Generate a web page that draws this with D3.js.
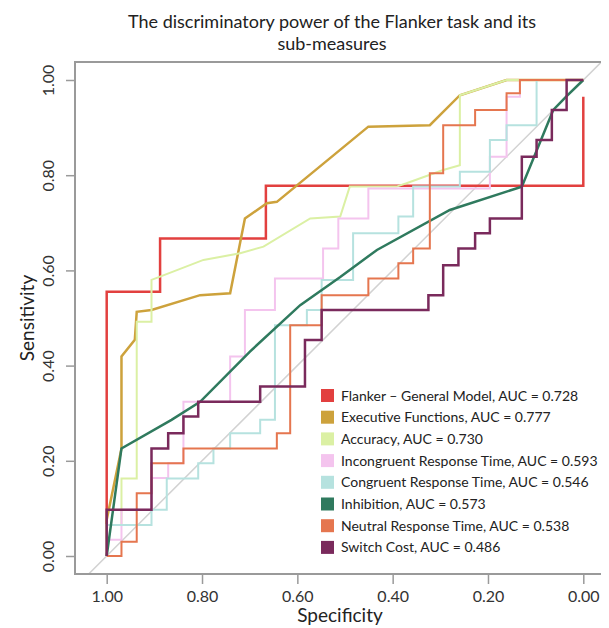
<!DOCTYPE html>
<meta charset="utf-8">
<style>
body { margin: 0; background: #fff; }
text { font-family: Lato, "Open Sans", sans-serif; fill: #222; }
.roc { fill: none; stroke-linejoin: miter; clip-path: url(#clip); }
.axis path { display: none; }
.axis line { stroke: #9a9a9a; stroke-width: 1.5px; }
.axis text { font-size: 16px; fill: #333; }
.frame { fill: none; stroke: #9a9a9a; stroke-width: 2px; }
</style>
<svg width="609" height="628"></svg>
<script src="https://d3js.org/d3.v7.min.js"></script>
<script>

// ROC curves as [specificity, sensitivity]
var flanker = [[1,0],[1,0.555],[0.888,0.555],[0.888,0.667],[0.666,0.667],[0.666,0.778],[0,0.778],[0,0.965]];

var executive = [[1,0],[1,0.076],[0.969,0.226],[0.969,0.419],[0.941,0.454],[0.937,0.513],[0.906,0.517],
  [0.804,0.548],[0.741,0.552],[0.710,0.709],[0.664,0.741],[0.643,0.744],[0.451,0.902],[0.322,0.905],
  [0.259,0.968],[0.161,1],[0,1]];

var accuracy = [[1,0],[1,0.065],[0.969,0.065],[0.969,0.163],[0.937,0.163],[0.937,0.492],[0.906,0.492],
  [0.906,0.580],[0.888,0.587],[0.797,0.622],[0.720,0.636],[0.671,0.650],[0.573,0.709],[0.510,0.713],
  [0.490,0.776],[0.392,0.776],[0.371,0.783],[0.294,0.811],[0.259,0.821],[0.259,0.968],[0.161,1],[0,1]];

var incongruent = [[1,0],[1,0.034],[0.969,0.034],[0.969,0.097],[0.906,0.097],[0.906,0.164],[0.871,0.164],
  [0.871,0.195],[0.839,0.195],[0.839,0.324],[0.741,0.324],[0.741,0.419],[0.710,0.419],[0.710,0.517],
  [0.647,0.517],[0.647,0.583],[0.546,0.583],[0.546,0.646],[0.514,0.646],[0.514,0.709],[0.451,0.709],
  [0.451,0.772],[0.196,0.772],[0.196,0.839],[0.161,0.839],[0.161,0.965],[0.133,0.965],[0.133,1],[0,1]];

var congruent = [[1,0],[1,0.065],[0.906,0.065],[0.906,0.097],[0.874,0.097],[0.874,0.163],[0.808,0.163],
  [0.808,0.195],[0.776,0.195],[0.776,0.226],[0.741,0.226],[0.741,0.258],[0.678,0.258],[0.678,0.286],
  [0.647,0.286],[0.647,0.485],[0.580,0.485],[0.580,0.517],[0.549,0.517],[0.549,0.580],[0.483,0.580],
  [0.483,0.678],[0.388,0.678],[0.388,0.713],[0.357,0.713],[0.357,0.776],[0.259,0.776],[0.259,0.807],
  [0.196,0.807],[0.196,0.874],[0.161,0.874],[0.161,0.905],[0.098,0.905],[0.098,1],[0,1]];

var inhibition = [[1,0],[0.969,0.226],[0.864,0.286],[0.804,0.324],[0.700,0.429],[0.594,0.527],
  [0.510,0.586],[0.433,0.643],[0.280,0.727],[0.129,0.776],[0.063,0.937],[0.035,0.966],[0,1]];

var neutral = [[1,0],[0.969,0],[0.969,0.030],[0.937,0.030],[0.937,0.132],[0.906,0.132],[0.906,0.195],
  [0.839,0.195],[0.839,0.226],[0.643,0.226],[0.643,0.258],[0.615,0.258],[0.615,0.485],[0.549,0.485],
  [0.549,0.548],[0.451,0.548],[0.451,0.583],[0.388,0.583],[0.388,0.615],[0.357,0.615],[0.357,0.646],
  [0.322,0.646],[0.322,0.804],[0.294,0.804],[0.294,0.905],[0.227,0.905],[0.227,0.937],[0.161,0.937],
  [0.161,0.972],[0.133,0.972],[0.133,1],[0,1]];

var switchCost = [[1,0],[1,0.097],[0.906,0.097],[0.906,0.226],[0.871,0.226],[0.871,0.258],[0.839,0.258],
  [0.839,0.293],[0.808,0.293],[0.808,0.324],[0.678,0.324],[0.678,0.356],[0.584,0.356],[0.584,0.454],
  [0.549,0.454],[0.549,0.517],[0.325,0.517],[0.325,0.548],[0.294,0.548],[0.294,0.611],[0.262,0.611],
  [0.262,0.646],[0.227,0.646],[0.227,0.678],[0.196,0.678],[0.196,0.709],[0.129,0.709],[0.129,0.839],
  [0.098,0.839],[0.098,0.874],[0.066,0.874],[0.066,0.937],[0.035,0.937],[0.035,1],[0,1]];

var seriesNames = ["Flanker \u2013 General Model", "Executive Functions", "Accuracy",
  "Incongruent Response Time", "Congruent Response Time", "Inhibition",
  "Neutral Response Time", "Switch Cost"];
var aucValues = [0.728, 0.777, 0.730, 0.593, 0.546, 0.573, 0.538, 0.486];
var seriesData = [flanker, executive, accuracy, incongruent, congruent, inhibition, neutral, switchCost];

var colors = ["#e2403f", "#cda23c", "#dbf0a4", "#f4c4ee", "#b6e2df", "#2f7a5e", "#e5764f", "#7a2a5c"];
var widths = [2.5, 2.5, 2, 2, 2, 2.5, 2, 2.5];

var tickValues = [0, 0.2, 0.4, 0.6, 0.8, 1];

var svg = d3.select("svg");
var frame = {left: 75, right: 601, top: 62, bottom: 574};

var x = d3.scaleLinear().domain([1, 0]).range([106.7, 583.3]),
    y = d3.scaleLinear().domain([0, 1]).range([556, 80]);

svg.append("defs").append("clipPath")
    .attr("id", "clip")
    .append("rect")
    .attr("x", frame.left)
    .attr("y", frame.top)
    .attr("width", frame.right - frame.left)
    .attr("height", frame.bottom - frame.top);

// title
svg.append("text")
    .attr("x", 332).attr("y", 28)
    .attr("text-anchor", "middle")
    .style("font-size", "18px")
    .text("The discriminatory power of the Flanker task and its");
svg.append("text")
    .attr("x", 332).attr("y", 50)
    .attr("text-anchor", "middle")
    .style("font-size", "18px")
    .text("sub-measures");

// reference diagonal
svg.append("line")
    .attr("class", "roc")
    .attr("x1", x(1.2)).attr("y1", y(-0.2))
    .attr("x2", x(-0.2)).attr("y2", y(1.2))
    .style("stroke", "#d2d2d2")
    .style("stroke-width", 1.5);

var line = d3.line()
    .x(function(d) { return x(d[0]); })
    .y(function(d) { return y(d[1]); });

seriesData.forEach(function(s, i) {
  svg.append("path")
      .datum(s)
      .attr("class", "roc")
      .attr("d", line)
      .style("stroke", colors[i])
      .style("stroke-width", widths[i]);
});

// frame (no right side)
svg.append("path")
    .attr("class", "frame")
    .attr("d", "M" + frame.right + "," + frame.top + "H" + frame.left + "V" + frame.bottom + "H" + frame.right);

// axes
var yAxis = svg.append("g")
    .attr("class", "axis")
    .attr("transform", "translate(" + (frame.left - 1) + ",0)")
    .call(d3.axisLeft(y).tickValues(tickValues).tickFormat(d3.format(".2f")).tickSize(8));
yAxis.selectAll("text")
    .attr("transform", "rotate(-90)")
    .attr("x", 0).attr("y", -20).attr("dy", 0)
    .attr("text-anchor", "middle");

var xAxis = svg.append("g")
    .attr("class", "axis")
    .attr("transform", "translate(0," + (frame.bottom + 1) + ")")
    .call(d3.axisBottom(x).tickValues(tickValues).tickFormat(d3.format(".2f")).tickSize(9));
xAxis.selectAll("text").attr("y", 16);

svg.append("text")
    .attr("x", 340).attr("y", 622)
    .attr("text-anchor", "middle")
    .style("font-size", "19px")
    .text("Specificity");

svg.append("text")
    .attr("transform", "translate(34,318) rotate(-90)")
    .attr("text-anchor", "middle")
    .style("font-size", "19px")
    .text("Sensitivity");

// legend
var legend = svg.append("g").attr("transform", "translate(321,389)");
seriesNames.forEach(function(name, i) {
  var row = legend.append("g").attr("transform", "translate(0," + (i * 21.7) + ")");
  row.append("rect")
      .attr("width", 13).attr("height", 13)
      .style("fill", colors[i]);
  row.append("text")
      .attr("x", 20).attr("y", 11.5)
      .style("font-size", "14px")
      .text(name + ", AUC = " + aucValues[i].toFixed(3));
});

</script>
